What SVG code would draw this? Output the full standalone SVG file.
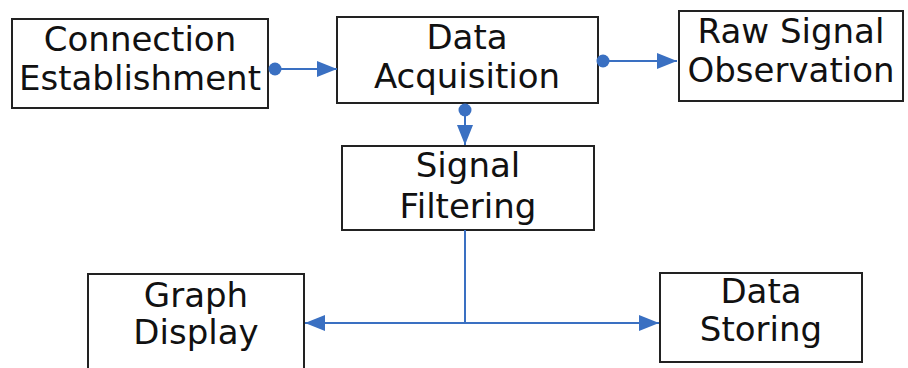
<svg xmlns="http://www.w3.org/2000/svg" width="908" height="368" viewBox="0 0 908 368">
<style>
.box{fill:#fff;stroke:#222;stroke-width:2}
.t{font-family:"DejaVu Sans",sans-serif;font-size:34px;fill:#111;text-anchor:middle}
.c{fill:none;stroke:#3a70c2;stroke-width:2}
.dot{fill:#3a70c2}
</style>
<defs>
<marker id="arrL" viewBox="0 0 20 16" refX="20" refY="8" markerWidth="20" markerHeight="16" markerUnits="userSpaceOnUse" orient="auto-start-reverse">
<path d="M0,0 L20,8 L0,16 z" fill="#3a70c2"/>
</marker>
</defs>
<rect width="908" height="368" fill="#fff"/>
<g id="n-conn"><rect class="box" x="12" y="19" width="256" height="89"/><text class="t" x="140" y="51">Connection</text><text class="t" x="140" y="90">Establishment</text></g>
<g id="n-acq"><rect class="box" x="337" y="17" width="261" height="86"/><text class="t" x="467" y="49">Data</text><text class="t" x="467" y="88">Acquisition</text></g>
<g id="n-raw"><rect class="box" x="679" y="11" width="224" height="90"/><text class="t" x="791" y="43">Raw Signal</text><text class="t" x="791" y="82">Observation</text></g>
<g id="n-filt"><rect class="box" x="342" y="146" width="252" height="84"/><text class="t" x="468" y="177">Signal</text><text class="t" x="468" y="218">Filtering</text></g>
<g id="n-graph"><rect class="box" x="88" y="274" width="216" height="110"/><text class="t" x="196" y="307">Graph</text><text class="t" x="196" y="344">Display</text></g>
<g id="n-store"><rect class="box" x="660" y="273" width="202" height="89"/><text class="t" x="761" y="303">Data</text><text class="t" x="761" y="341">Storing</text></g>
<g id="connectors">
<line class="c" x1="275" y1="69" x2="337" y2="69" marker-end="url(#arrL)"/><circle class="dot" cx="275" cy="69" r="6.5"/>
<line class="c" x1="603" y1="61" x2="677" y2="61" marker-end="url(#arrL)"/><circle class="dot" cx="603" cy="61" r="6.5"/>
<line class="c" x1="465" y1="110" x2="465" y2="145" marker-end="url(#arrL)"/><circle class="dot" cx="465" cy="110" r="6.5"/>
<line class="c" x1="465" y1="230" x2="465" y2="323"/>
<line class="c" x1="305" y1="323" x2="659" y2="323" marker-start="url(#arrL)" marker-end="url(#arrL)"/>
</g>
</svg>
